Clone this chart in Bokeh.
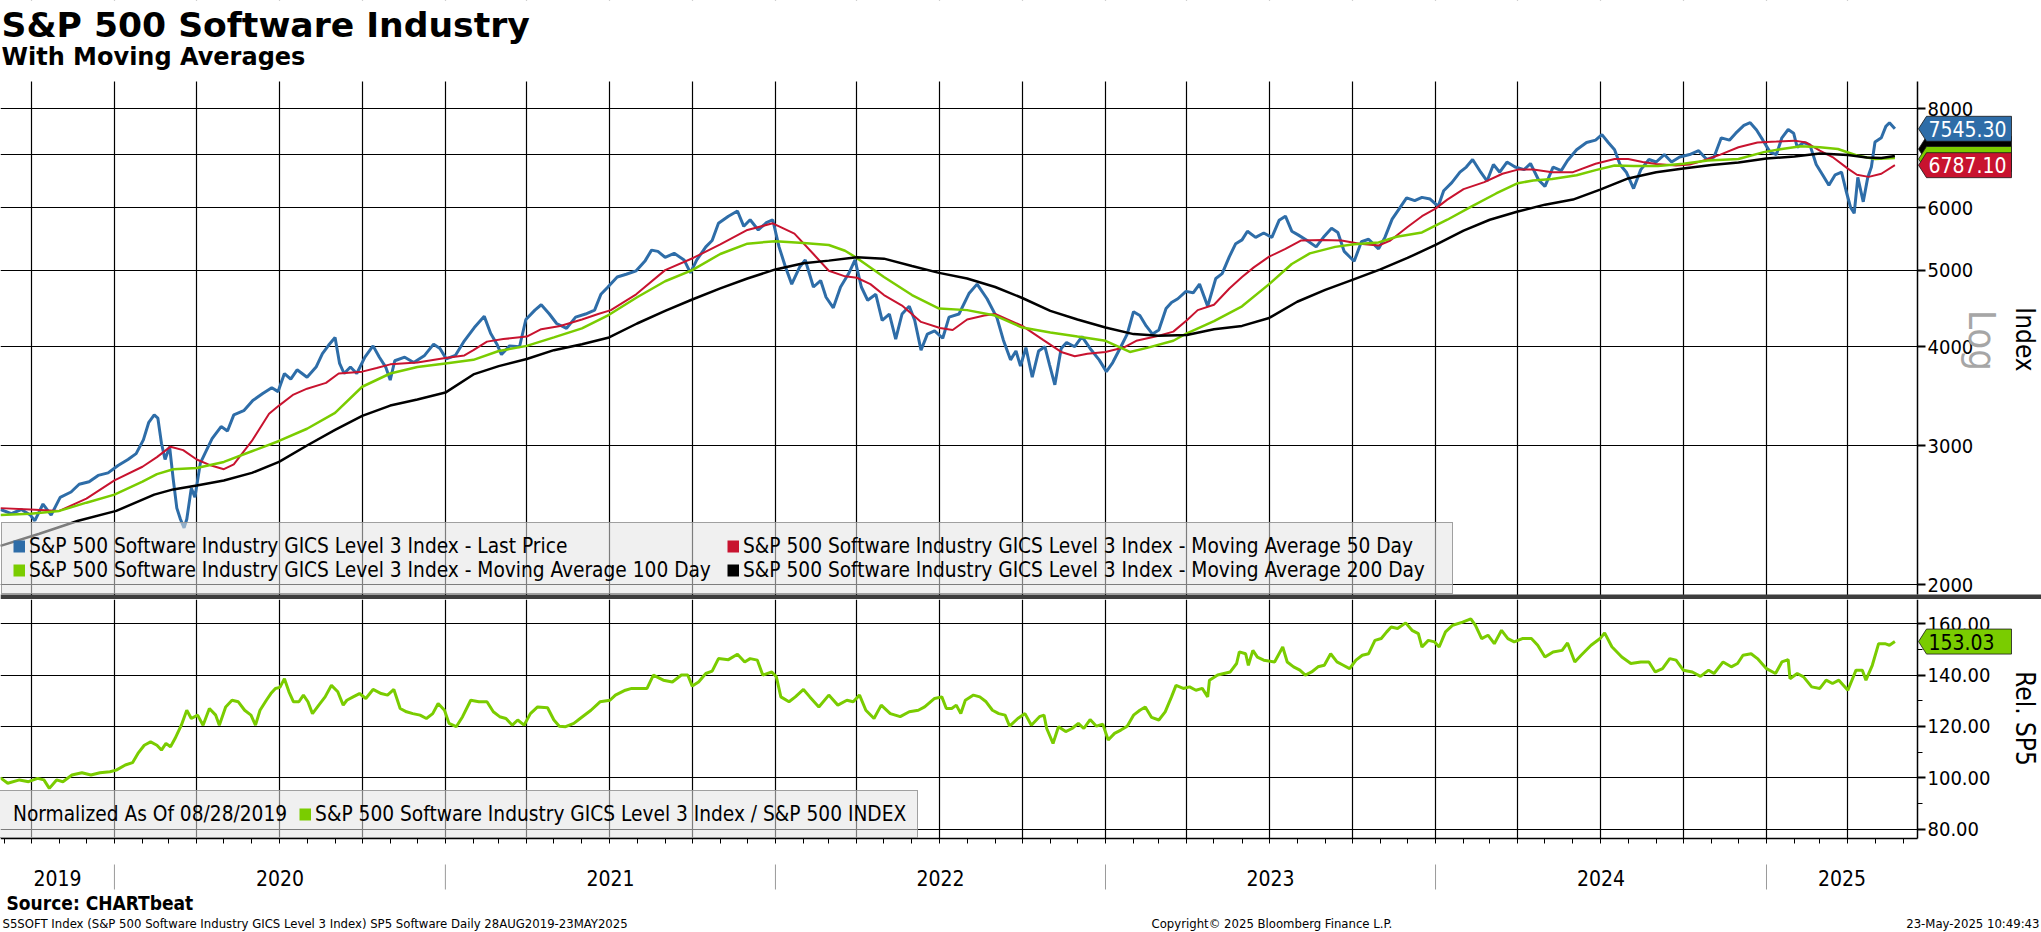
import numpy as np
import pandas as pd
from bokeh.plotting import figure
from bokeh.models import (Range1d, FixedTicker, NumeralTickFormatter, DatetimeTickFormatter,
                          Legend, LegendItem, Label, BoxAnnotation, PolyAnnotation)
from bokeh.layouts import column
from bokeh.embed import file_html
from bokeh.resources import INLINE

# ---------------------------------------------------------------- data
price_dates = ["2019-08-28","2019-09-09","2019-09-20","2019-09-30","2019-10-05","2019-10-14","2019-10-23","2019-11-02","2019-11-14","2019-11-23",
"2019-12-04","2019-12-14","2019-12-25","2020-01-05","2020-01-16","2020-01-25","2020-02-02","2020-02-08","2020-02-14","2020-02-18",
"2020-02-22","2020-02-26","2020-03-02","2020-03-06","2020-03-10","2020-03-14","2020-03-18","2020-03-21","2020-03-26","2020-03-30",
"2020-04-05","2020-04-10","2020-04-18","2020-04-28","2020-05-05","2020-05-12","2020-05-23","2020-06-02","2020-06-13","2020-06-23",
"2020-06-30","2020-07-07","2020-07-14","2020-07-21","2020-08-01","2020-08-11","2020-08-18","2020-08-25","2020-09-01","2020-09-06",
"2020-09-11","2020-09-18","2020-09-25","2020-10-04","2020-10-13","2020-10-20","2020-10-27","2020-11-01","2020-11-06","2020-11-17",
"2020-11-27","2020-12-09","2020-12-19","2020-12-26","2021-01-02","2021-01-12","2021-01-22","2021-02-02","2021-02-13","2021-02-20",
"2021-02-27","2021-03-04","2021-03-13","2021-03-24","2021-03-31","2021-04-10","2021-04-17","2021-04-26","2021-05-04","2021-05-15",
"2021-05-25","2021-06-05","2021-06-15","2021-06-22","2021-06-29","2021-07-10","2021-07-20","2021-07-31","2021-08-10","2021-08-17",
"2021-08-24","2021-09-01","2021-09-11","2021-09-22","2021-09-29","2021-10-06","2021-10-16","2021-10-23","2021-10-30","2021-11-10",
"2021-11-20","2021-11-27","2021-12-04","2021-12-13","2021-12-22","2021-12-29","2022-01-05","2022-01-12","2022-01-19","2022-01-28",
"2022-02-03","2022-02-12","2022-02-20","2022-02-26","2022-03-06","2022-03-14","2022-03-23","2022-03-30","2022-04-06","2022-04-13",
"2022-04-22","2022-04-29","2022-05-07","2022-05-14","2022-05-21","2022-05-29","2022-06-04","2022-06-11","2022-06-18","2022-06-26",
"2022-07-05","2022-07-12","2022-07-23","2022-08-03","2022-08-12","2022-08-23","2022-09-03","2022-09-10","2022-09-18","2022-09-24",
"2022-09-29","2022-10-05","2022-10-12","2022-10-19","2022-10-26","2022-10-31","2022-11-06","2022-11-13","2022-11-19","2022-11-28",
"2022-12-06","2022-12-15","2022-12-25","2023-01-02","2023-01-09","2023-01-18","2023-01-25","2023-02-01","2023-02-08","2023-02-15",
"2023-02-22","2023-03-01","2023-03-09","2023-03-15","2023-03-22","2023-03-31","2023-04-08","2023-04-15","2023-04-24","2023-05-03",
"2023-05-10","2023-05-18","2023-05-25","2023-06-01","2023-06-07","2023-06-16","2023-06-25","2023-07-04","2023-07-12","2023-07-19",
"2023-07-26","2023-08-02","2023-08-12","2023-08-22","2023-08-31","2023-09-08","2023-09-15","2023-09-22","2023-10-03","2023-10-11",
"2023-10-19","2023-10-30","2023-11-06","2023-11-14","2023-11-21","2023-11-30","2023-12-09","2023-12-17","2023-12-26","2024-01-04",
"2024-01-10","2024-01-19","2024-01-28","2024-02-04","2024-02-11","2024-02-20","2024-02-27","2024-03-05","2024-03-12","2024-03-20",
"2024-03-29","2024-04-08","2024-04-15","2024-04-24","2024-05-01","2024-05-10","2024-05-19","2024-05-26","2024-06-05","2024-06-16",
"2024-06-26","2024-07-03","2024-07-10","2024-07-17","2024-07-23","2024-07-30","2024-08-07","2024-08-15","2024-08-24","2024-09-01",
"2024-09-10","2024-09-18","2024-09-27","2024-10-08","2024-10-18","2024-10-27","2024-11-04","2024-11-12","2024-11-21","2024-11-28",
"2024-12-07","2024-12-14","2024-12-21","2024-12-28","2025-01-05","2025-01-12","2025-01-18","2025-01-25","2025-01-31","2025-02-04",
"2025-02-11","2025-02-18","2025-02-25","2025-03-04","2025-03-11","2025-03-18","2025-03-25","2025-03-30","2025-04-04","2025-04-08",
"2025-04-12","2025-04-18","2025-04-23","2025-04-27","2025-05-01","2025-05-08","2025-05-13","2025-05-17","2025-05-23"]
price_vals = [2490,2460,2490,2450,2410,2530,2450,2580,2620,2680,
2700,2750,2770,2830,2880,2930,3050,3210,3280,3250,
3020,2880,2990,2720,2500,2420,2360,2420,2650,2580,
2850,2930,3060,3170,3130,3280,3320,3420,3490,3550,
3510,3700,3640,3740,3660,3770,3920,4020,4110,3810,
3700,3770,3700,3880,4010,3880,3770,3630,3840,3880,
3820,3900,4030,3980,3860,3900,4070,4230,4370,4160,
4030,3910,4010,4000,4330,4450,4520,4400,4280,4220,
4360,4400,4450,4660,4750,4900,4940,4990,5140,5300,
5280,5190,5250,5150,4960,5150,5350,5450,5730,5850,
5940,5680,5790,5620,5740,5790,5350,5050,4800,5050,
5150,4760,4850,4620,4480,4760,4950,5150,4760,4580,
4660,4320,4400,4090,4400,4500,4320,3960,4150,4190,
4100,4360,4400,4670,4800,4600,4350,4080,3850,3950,
3780,3990,3660,3950,4000,3800,3580,3980,4050,4000,
4120,3980,3850,3720,3820,4000,4150,4430,4380,4250,
4150,4200,4470,4550,4600,4700,4680,4800,4500,4880,
4950,5200,5400,5460,5600,5500,5570,5500,5780,5850,
5600,5540,5450,5350,5520,5650,5580,5280,5130,5430,
5470,5320,5500,5800,5960,6170,6120,6180,6150,6020,
6300,6450,6650,6750,6900,6650,6480,6800,6650,6850,
6750,6700,6820,6500,6380,6750,6680,6880,7100,7250,
7300,7420,7250,7100,6800,6650,6340,6700,6900,6850,
7000,6850,6950,7000,7080,6900,6950,7350,7300,7450,
7620,7680,7520,7300,7050,7000,7350,7530,7450,7150,
7250,7200,6800,6600,6400,6600,6650,6300,6000,5900,
6550,6100,6550,6750,7260,7350,7600,7680,7545.30]

ma50_dates = ["2019-08-28","2019-09-30","2019-11-01","2019-12-01","2020-01-01","2020-02-01","2020-02-17","2020-03-03","2020-03-17","2020-04-01",
"2020-04-17","2020-05-01","2020-05-12","2020-06-01","2020-06-20","2020-07-01","2020-07-17","2020-08-01","2020-08-22","2020-09-05",
"2020-10-01","2020-10-17","2020-11-01","2020-12-01","2021-01-01","2021-01-22","2021-02-01","2021-02-16","2021-03-06","2021-04-01",
"2021-04-17","2021-05-08","2021-06-01","2021-06-19","2021-07-03","2021-07-31","2021-09-01","2021-10-02","2021-11-01","2021-12-01",
"2021-12-29","2022-01-22","2022-02-12","2022-03-01","2022-03-19","2022-04-01","2022-04-16","2022-05-01","2022-05-21","2022-06-11",
"2022-07-02","2022-07-16","2022-08-01","2022-08-20","2022-09-01","2022-10-01","2022-10-24","2022-11-13","2022-11-28","2022-12-12",
"2023-01-01","2023-01-21","2023-02-04","2023-03-01","2023-03-17","2023-04-01","2023-04-13","2023-05-01","2023-05-18","2023-06-01",
"2023-06-14","2023-07-01","2023-07-19","2023-08-05","2023-08-29","2023-09-19","2023-10-09","2023-10-30","2023-11-12","2023-12-01",
"2023-12-17","2024-01-01","2024-01-14","2024-02-01","2024-02-24","2024-03-15","2024-04-01","2024-04-18","2024-05-09","2024-06-01",
"2024-06-26","2024-07-17","2024-08-01","2024-08-17","2024-09-01","2024-09-23","2024-10-08","2024-10-22","2024-11-11","2024-12-01",
"2024-12-22","2025-01-12","2025-02-01","2025-02-14","2025-03-01","2025-03-15","2025-04-01","2025-04-11","2025-04-24","2025-05-08",
"2025-05-23"]
ma50_vals = [2500,2490,2480,2570,2710,2820,2900,2990,2960,2880,
2830,2800,2840,3040,3290,3370,3480,3540,3600,3700,
3720,3760,3800,3820,3870,3900,3960,4060,4090,4120,
4210,4250,4330,4400,4450,4660,5000,5180,5390,5620,
5730,5560,5240,4990,4910,4890,4800,4650,4510,4300,
4225,4200,4330,4380,4400,4250,4080,3940,3890,3920,
3940,3990,4070,4130,4180,4320,4450,4520,4740,4900,
5040,5200,5320,5450,5460,5450,5400,5370,5450,5670,
5850,5980,6140,6330,6460,6620,6700,6700,6650,6650,
6815,6910,6910,6850,6810,6780,6800,6870,7000,7150,
7250,7270,7290,7250,7080,6950,6720,6600,6560,6620,
6787.10]

ma100_dates = ["2019-08-28","2019-09-30","2019-11-01","2019-12-01","2020-01-01","2020-02-01","2020-02-17","2020-03-06","2020-04-01","2020-05-01",
"2020-06-01","2020-07-01","2020-08-01","2020-09-01","2020-10-01","2020-11-01","2020-12-01","2021-01-01","2021-02-01","2021-03-01",
"2021-04-01","2021-05-01","2021-06-01","2021-07-01","2021-08-01","2021-09-01","2021-10-01","2021-11-01","2021-12-01","2022-01-01",
"2022-02-01","2022-03-01","2022-03-19","2022-04-01","2022-05-01","2022-06-01","2022-07-01","2022-08-01","2022-09-01","2022-10-01",
"2022-11-01","2022-12-01","2023-01-01","2023-01-28","2023-02-17","2023-03-17","2023-04-01","2023-05-01","2023-06-01","2023-07-01",
"2023-07-26","2023-08-15","2023-09-12","2023-10-03","2023-10-30","2023-11-19","2023-12-17","2024-01-14","2024-02-09","2024-03-08",
"2024-04-01","2024-04-18","2024-05-09","2024-06-05","2024-06-26","2024-07-17","2024-08-07","2024-09-03","2024-10-01","2024-10-28",
"2024-12-01","2024-12-29","2025-01-18","2025-02-08","2025-03-01","2025-03-21","2025-04-11","2025-05-01","2025-05-23"]
ma100_vals = [2450,2460,2480,2540,2600,2700,2760,2800,2810,2860,
2950,3040,3150,3300,3560,3700,3770,3810,3850,3950,
4010,4110,4220,4390,4620,4840,5000,5240,5400,5440,
5410,5380,5290,5180,4900,4650,4470,4450,4380,4230,
4170,4120,4070,3940,3990,4070,4160,4310,4500,4800,
5090,5250,5350,5390,5420,5510,5580,5790,6010,6250,
6440,6490,6520,6590,6690,6780,6770,6770,6815,6880,
6910,7050,7115,7170,7150,7115,6980,6910,6930]

ma200_dates = ["2019-08-28","2019-10-10","2019-11-22","2020-01-03","2020-02-14","2020-03-06","2020-04-01","2020-05-01","2020-06-01","2020-07-01",
"2020-08-01","2020-09-01","2020-10-01","2020-11-01","2020-12-01","2021-01-01","2021-02-01","2021-03-01","2021-04-01","2021-05-01",
"2021-06-01","2021-07-01","2021-08-01","2021-09-01","2021-10-01","2021-11-01","2021-12-01","2022-01-01","2022-02-01","2022-03-01",
"2022-04-01","2022-05-01","2022-06-01","2022-07-01","2022-08-01","2022-09-01","2022-10-01","2022-11-01","2022-12-01","2023-01-01",
"2023-02-01","2023-03-01","2023-04-01","2023-05-01","2023-06-01","2023-07-01","2023-08-01","2023-09-01","2023-10-01","2023-11-01",
"2023-12-01","2024-01-01","2024-02-01","2024-03-01","2024-04-01","2024-05-01","2024-06-01","2024-07-01","2024-08-01","2024-09-01",
"2024-10-01","2024-11-01","2024-12-01","2025-01-01","2025-02-01","2025-03-01","2025-04-01","2025-04-22","2025-05-08","2025-05-23"]
ma200_vals = [2240,2320,2410,2480,2600,2640,2670,2710,2770,2860,
3000,3140,3270,3370,3430,3500,3690,3780,3860,3960,
4030,4110,4280,4440,4590,4740,4880,5010,5100,5140,
5190,5170,5060,4960,4880,4760,4610,4440,4330,4230,
4150,4130,4140,4210,4250,4350,4560,4720,4860,5010,
5180,5380,5610,5790,5930,6050,6140,6320,6530,6650,
6720,6790,6840,6920,6960,7020,6990,6940,6930,6970]

rel_dates = ["2019-08-28","2019-09-05","2019-09-18","2019-09-28","2019-10-08","2019-10-15","2019-10-21","2019-10-29","2019-11-05","2019-11-15",
"2019-11-26","2019-12-06","2019-12-16","2019-12-27","2020-01-03","2020-01-13","2020-01-21","2020-01-27","2020-02-03","2020-02-10",
"2020-02-17","2020-02-22","2020-02-27","2020-03-03","2020-03-08","2020-03-15","2020-03-21","2020-03-26","2020-04-02","2020-04-08",
"2020-04-15","2020-04-22","2020-04-26","2020-05-03","2020-05-10","2020-05-17","2020-05-24","2020-05-31","2020-06-05","2020-06-10",
"2020-06-17","2020-06-22","2020-06-27","2020-07-02","2020-07-07","2020-07-12","2020-07-17","2020-07-23","2020-07-28","2020-08-02",
"2020-08-07","2020-08-14","2020-08-21","2020-08-28","2020-09-04","2020-09-10","2020-09-14","2020-09-21","2020-09-28","2020-10-05",
"2020-10-13","2020-10-22","2020-10-29","2020-11-05","2020-11-12","2020-11-19","2020-11-26","2020-12-04","2020-12-11","2020-12-18",
"2020-12-24","2020-12-31","2021-01-05","2021-01-13","2021-01-20","2021-01-29","2021-02-07","2021-02-16","2021-02-23","2021-03-02",
"2021-03-09","2021-03-16","2021-03-22","2021-03-29","2021-04-05","2021-04-13","2021-04-24","2021-05-01","2021-05-07","2021-05-14",
"2021-05-23","2021-05-30","2021-06-11","2021-06-21","2021-07-02","2021-07-08","2021-07-19","2021-07-26","2021-08-02","2021-08-12",
"2021-08-19","2021-08-30","2021-09-09","2021-09-19","2021-09-26","2021-10-01","2021-10-08","2021-10-16","2021-10-23","2021-10-30",
"2021-11-10","2021-11-20","2021-11-28","2021-12-04","2021-12-12","2021-12-18","2021-12-28","2022-01-02","2022-01-07","2022-01-16",
"2022-01-23","2022-02-01","2022-02-08","2022-02-18","2022-03-01","2022-03-11","2022-03-21","2022-03-28","2022-04-04","2022-04-11",
"2022-04-20","2022-04-28","2022-05-08","2022-05-19","2022-05-29","2022-06-08","2022-06-15","2022-06-26","2022-07-04","2022-07-09",
"2022-07-15","2022-07-20","2022-07-25","2022-07-30","2022-08-08","2022-08-15","2022-08-22","2022-08-29","2022-09-05","2022-09-12",
"2022-09-17","2022-09-26","2022-10-04","2022-10-11","2022-10-20","2022-10-25","2022-10-28","2022-11-04","2022-11-10","2022-11-18",
"2022-11-25","2022-12-02","2022-12-08","2022-12-15","2022-12-22","2022-12-29","2023-01-04","2023-01-11","2023-01-18","2023-01-25",
"2023-02-01","2023-02-08","2023-02-14","2023-02-21","2023-03-01","2023-03-08","2023-03-15","2023-03-20","2023-03-28","2023-04-04",
"2023-04-11","2023-04-18","2023-04-24","2023-04-26","2023-05-05","2023-05-12","2023-05-19","2023-05-26","2023-05-29","2023-06-05",
"2023-06-08","2023-06-13","2023-06-18","2023-06-25","2023-07-07","2023-07-16","2023-07-21","2023-07-28","2023-08-04","2023-08-10",
"2023-08-17","2023-08-24","2023-08-31","2023-09-07","2023-09-14","2023-09-21","2023-09-28","2023-10-05","2023-10-12","2023-10-19",
"2023-10-26","2023-11-02","2023-11-08","2023-11-13","2023-11-20","2023-11-29","2023-12-06","2023-12-13","2023-12-17","2023-12-24",
"2023-12-31","2024-01-05","2024-01-12","2024-01-20","2024-01-31","2024-02-09","2024-02-14","2024-02-21","2024-02-28","2024-03-06",
"2024-03-14","2024-03-21","2024-03-28","2024-04-06","2024-04-16","2024-04-23","2024-05-01","2024-05-10","2024-05-20","2024-05-26",
"2024-06-03","2024-06-10","2024-06-21","2024-07-01","2024-07-06","2024-07-14","2024-07-25","2024-08-04","2024-08-15","2024-08-24",
"2024-08-31","2024-09-08","2024-09-16","2024-09-23","2024-10-01","2024-10-11","2024-10-20","2024-10-29","2024-11-04","2024-11-14",
"2024-11-23","2024-11-30","2024-12-06","2024-12-15","2024-12-22","2025-01-01","2025-01-11","2025-01-18","2025-01-25","2025-01-27",
"2025-02-04","2025-02-11","2025-02-20","2025-03-01","2025-03-08","2025-03-15","2025-03-22","2025-04-01","2025-04-10","2025-04-17",
"2025-04-21","2025-04-28","2025-05-05","2025-05-12","2025-05-17","2025-05-23"]
rel_vals = [100.0,97.9,99.2,98.5,99.8,99.2,95.9,99.2,98.5,101.1,
102.0,101.1,102.0,102.4,103.0,105.0,105.9,109.5,112.7,114.0,
112.7,110.8,113.4,112.1,115.3,120.5,126.3,123.1,124.4,120.5,
127.0,124.4,120.5,127.6,130.2,129.6,126.3,124.4,120.5,126.3,
130.2,132.8,134.8,135.2,138.6,133.5,129.6,129.6,132.2,129.6,
125.0,128.3,131.5,136.0,133.5,128.3,130.2,131.5,132.8,130.9,
134.4,132.8,132.2,134.4,127.0,125.7,125.0,124.4,123.1,125.0,
128.9,126.3,121.2,119.9,123.8,130.2,129.6,129.6,125.7,123.8,
123.1,120.5,122.5,120.5,125.0,127.6,127.3,122.5,120.1,119.9,
121.2,123.1,126.3,129.6,130.2,132.2,134.1,134.8,134.8,134.8,
140.0,138.0,137.3,140.0,140.0,135.7,137.3,140.6,141.5,146.4,
146.0,148.1,145.1,146.4,145.8,140.0,141.2,139.3,131.5,129.6,
131.5,134.4,131.5,127.6,132.2,128.3,130.2,129.6,132.2,126.3,
123.1,128.3,125.0,123.8,125.7,126.3,127.6,130.9,131.5,127.0,
127.0,128.3,125.0,130.2,132.2,131.5,129.6,126.3,125.0,124.4,
120.1,123.1,125.0,120.5,123.8,124.4,119.2,113.4,119.9,118.0,
119.2,121.2,119.2,122.7,120.1,120.9,114.7,117.3,118.6,120.1,
124.4,126.3,127.6,123.5,122.5,125.7,131.5,136.0,134.8,135.4,
134.1,134.8,131.5,138.0,140.0,140.6,141.2,144.5,149.0,148.3,
143.8,149.6,147.0,145.8,145.1,150.9,145.1,143.2,141.9,140.0,
141.2,143.2,143.8,148.3,145.1,143.8,142.5,145.8,147.7,148.3,
153.5,154.2,156.8,158.7,158.1,160.3,157.4,156.1,150.9,153.5,
152.9,150.9,156.8,159.4,160.6,161.9,159.4,154.2,155.5,152.2,
157.4,154.2,152.9,154.2,154.2,151.6,147.0,149.0,149.6,152.5,
145.1,147.7,151.6,154.2,156.4,151.0,147.0,144.5,145.1,145.1,
141.2,142.5,146.4,145.8,141.9,141.2,139.5,141.9,140.6,145.1,
143.2,144.5,147.7,148.3,146.4,142.5,140.6,145.1,146.0,138.6,
140.6,139.3,135.4,134.8,138.0,136.7,138.0,134.1,141.9,141.9,
138.0,143.8,152.2,152.2,151.6,153.03]

main_grid = [2000, 3000, 4000, 5000, 6000, 7000, 8000]
main_ticks = [2000, 3000, 4000, 5000, 6000, 8000]      # 7000 label sits under the badges
rel_ticks = [80, 100, 120, 140, 160]
rel_minor = [90, 110, 130, 150]
years = ["2019", "2020", "2021", "2022", "2023", "2024", "2025"]
X_START, X_AXIS = "2019-08-28", "2025-06-17"
MAIN_LO, MAIN_HI = 1944, 8660
REL_LO, REL_HI = 76.4, 169.4
last_price, last_ma50, last_rel = 7545.30, 6787.10, 153.03

main_labels = ["S&P 500 Software Industry GICS Level 3 Index - Last Price",
               "S&P 500 Software Industry GICS Level 3 Index - Moving Average 50 Day",
               "S&P 500 Software Industry GICS Level 3 Index - Moving Average 100 Day",
               "S&P 500 Software Industry GICS Level 3 Index - Moving Average 200 Day"]
rel_title = "Normalized As Of 08/28/2019"
rel_label = "S&P 500 Software Industry GICS Level 3 Index / S&P 500 INDEX"

# ---------------------------------------------------------------- geometry / style
FONT = "DejaVu Sans Condensed, DejaVu Sans"
TFONT = "DejaVu Sans"
BLUE, RED, GREEN, BLACK = "#2E6DA8", "#C8132F", "#7ACC00", "#000000"
SEP_COLOR = "#3d3d3d"
W = 2041
AX_PX = 1917                       # pixel column of the value axis
M_H, M_TOP, M_BOT = 599, 81, 594   # main canvas height, plot top / bottom (band below = separator)
L_OFF = M_H                        # page offset of lower canvas
L_H, L_TOP, L_BOT = 333, 0, 239    # lower canvas height, plot top / bottom (local px)


def ms(d):
    return pd.Timestamp(d).value / 1e6


x_start_ms, x_axis_ms = ms(X_START), ms(X_AXIS)
ms_per_px = (x_axis_ms - x_start_ms) / AX_PX


def xv(px):
    return x_start_ms + px * ms_per_px


x_range = Range1d(start=x_start_ms, end=xv(W))
pxln = (M_BOT - M_TOP) / np.log(MAIN_HI / MAIN_LO)


def yv1(py):
    return MAIN_LO * np.exp((M_BOT - py) / pxln)


def py1(v):
    return M_BOT - pxln * np.log(v / MAIN_LO)


ppu = (L_BOT - L_TOP) / (REL_HI - REL_LO)


def yv2(py):
    return REL_LO + (L_OFF + L_BOT - py) / ppu


def py2(v):
    return L_OFF + L_BOT - (v - REL_LO) * ppu


quarter_ms = [ms(d) for d in pd.date_range("2019-10-01", X_AXIS, freq="QS")]
month_ms = [ms(d) for d in pd.date_range("2019-09-01", X_AXIS, freq="MS")]
year_bounds = [ms(f"{y}-01-01") for y in years[1:]]
year_centers = []
for y in years:
    a = max(ms(f"{y}-01-01"), x_start_ms)
    b = min(ms(f"{int(y) + 1}-01-01"), x_axis_ms)
    year_centers.append((a + b) / 2)


def style_grid(fig, yticks):
    for g in (fig.xgrid, fig.ygrid):
        g.grid_line_color = "black"
        g.grid_line_width = 1.2
    fig.xgrid.ticker = FixedTicker(ticks=quarter_ms)
    fig.ygrid.ticker = FixedTicker(ticks=yticks)


def style_value_axis(ax, lo, hi):
    ax.fixed_location = x_axis_ms
    ax.bounds = (lo, hi)
    ax.axis_line_color = "black"
    ax.axis_line_width = 1.5
    ax.major_tick_in = 0
    ax.major_tick_out = 8
    ax.major_tick_line_width = 2
    ax.major_tick_line_color = "black"
    ax.minor_tick_in = 0
    ax.minor_tick_out = 5
    ax.minor_tick_line_color = "black"
    ax.major_label_standoff = 2
    ax.major_label_text_font = FONT
    ax.major_label_text_font_size = "20px"
    ax.major_label_text_color = "black"


def band(fig, color, **kw):
    fig.add_layout(BoxAnnotation(fill_color=color, fill_alpha=1.0, line_alpha=0,
                                 level="underlay", **kw))


def txt(fig, x, y, text, size, color="black", bold=False, font=FONT, align="left",
        angle=0.0):
    fig.add_layout(Label(x=x, y=y, text=text,
                         text_font=font, text_font_size=size, text_color=color,
                         text_font_style="bold" if bold else "normal",
                         text_align=align, text_baseline="middle", angle=angle))


def badge(fig, yfun, cy, bg, text=None, fg="white"):
    top, bot = cy - 12.5, cy + 12.5
    xs = [xv(1918), xv(1926), xv(2011), xv(2011), xv(1926)]
    ys = [yfun(cy), yfun(top), yfun(top), yfun(bot), yfun(bot)]
    fig.add_layout(PolyAnnotation(xs=xs, ys=ys, fill_color=bg, fill_alpha=1.0,
                                  line_color="#1a1a1a", line_width=1, line_alpha=0.8))
    if text:
        txt(fig, xv(1928), yfun(cy), text, "21px", color=fg)


LEG_STYLE = dict(label_text_font=FONT, label_text_font_size="20.7px", label_text_color="black",
                 glyph_width=12, glyph_height=22, label_height=22, label_standoff=4,
                 padding=11, margin=0,
                 background_fill_color="#e4e4e4", background_fill_alpha=0.55,
                 border_line_color="#8c8c8c", border_line_alpha=0.8, border_line_width=1)

# ---------------------------------------------------------------- main panel
p = figure(width=W, height=M_H, x_axis_type="datetime", y_axis_type="log",
           x_range=x_range, y_range=Range1d(yv1(M_H), yv1(0)),
           x_axis_location=None, y_axis_location="right",
           output_backend="svg", toolbar_location=None,
           min_border_left=0, min_border_right=0, min_border_top=0, min_border_bottom=0)
p.outline_line_color = None
style_grid(p, main_grid)
ya = p.yaxis[0]
ya.ticker = FixedTicker(ticks=main_ticks)
ya.formatter = NumeralTickFormatter(format="0")
style_value_axis(ya, MAIN_LO, MAIN_HI)
band(p, "white", left=x_axis_ms)
band(p, "white", bottom=MAIN_HI)
band(p, SEP_COLOR, top=MAIN_LO)

p.line(pd.to_datetime(price_dates), price_vals, line_color=BLUE, line_width=3)
p.line(pd.to_datetime(ma50_dates), ma50_vals, line_color=RED, line_width=2)
p.line(pd.to_datetime(ma100_dates), ma100_vals, line_color=GREEN, line_width=2.5)
p.line(pd.to_datetime(ma200_dates), ma200_vals, line_color=BLACK, line_width=2.5)

proxies = [p.line([x_start_ms], [3000], line_color=c, line_width=12) for c in (BLUE, RED, GREEN, BLACK)]
leg = Legend(items=[LegendItem(label=l, renderers=[r]) for l, r in zip(main_labels, proxies)],
             location=(1, M_H - M_BOT), orientation="horizontal", ncols=2, label_width=698, spacing=0,
             **LEG_STYLE)
p.add_layout(leg)

badge(p, yv1, 148.5, BLACK)
badge(p, yv1, 158.5, GREEN)
badge(p, yv1, py1(last_price), BLUE, f"{last_price:.2f}")
badge(p, yv1, py1(last_ma50), RED, f"{last_ma50:.2f}")

txt(p, xv(1), yv1(24), "S&P 500 Software Industry", "34.6px", bold=True, font=TFONT)
txt(p, xv(1), yv1(56), "With Moving Averages", "24px", bold=True, font=TFONT)
txt(p, xv(1981), yv1(340), "Log", "38px", color="#a6a6a6", angle=-np.pi / 2, align="center")
txt(p, xv(2024), yv1(339), "Index", "26px", angle=-np.pi / 2, align="center")

# ---------------------------------------------------------------- relative panel
p2 = figure(width=W, height=L_H, x_axis_type="datetime", x_range=x_range,
            y_range=Range1d(yv2(L_OFF + L_H), REL_HI), y_axis_location="right",
            output_backend="svg", toolbar_location=None,
            min_border_left=0, min_border_right=0, min_border_top=0, min_border_bottom=0)
p2.outline_line_color = None
style_grid(p2, rel_ticks)
ya2 = p2.yaxis[0]
ya2.ticker = FixedTicker(ticks=rel_ticks, minor_ticks=rel_minor)
ya2.formatter = NumeralTickFormatter(format="0.00")
style_value_axis(ya2, REL_LO, REL_HI)
band(p2, "white", left=x_axis_ms)
band(p2, "white", top=REL_LO)

xa = p2.xaxis[0]
xa.fixed_location = REL_LO
xa.bounds = (x_start_ms, x_axis_ms)
xa.ticker = FixedTicker(ticks=year_centers, minor_ticks=month_ms)
xa.formatter = DatetimeTickFormatter(microseconds="%Y", milliseconds="%Y", seconds="%Y", minsec="%Y",
                                     minutes="%Y", hourmin="%Y", hours="%Y", days="%Y",
                                     months="%Y", years="%Y")
xa.axis_line_color = "black"
xa.axis_line_width = 1.5
xa.major_tick_in = 0
xa.major_tick_out = 0
xa.minor_tick_in = 0
xa.minor_tick_out = 5
xa.minor_tick_line_color = "black"
xa.major_label_standoff = 26
xa.major_label_text_font = FONT
xa.major_label_text_font_size = "21px"
xa.major_label_text_color = "black"

# thin separators between the year labels
p2.segment(x0=year_bounds, x1=year_bounds,
           y0=[yv2(864)] * len(year_bounds), y1=[yv2(889)] * len(year_bounds),
           line_color="#9a9a9a", line_width=1)

p2.line(pd.to_datetime(rel_dates), rel_vals, line_color=GREEN, line_width=3)
inv = p2.line([x_start_ms], [100], line_alpha=0, line_width=12)
gprx = p2.line([x_start_ms], [100], line_color=GREEN, line_width=12)
leg2 = Legend(items=[LegendItem(label=rel_title, renderers=[inv]),
                     LegendItem(label=rel_label, renderers=[gprx])],
              location=(-15, L_H - L_BOT), orientation="horizontal", spacing=12,
              **LEG_STYLE)
p2.add_layout(leg2)

badge(p2, yv2, py2(last_rel), GREEN, f"{last_rel:.2f}", fg="black")
txt(p2, xv(2024), yv2(718), "Rel. SP5", "26px", angle=-np.pi / 2, align="center")

txt(p2, xv(6), yv2(902), "Source: CHARTbeat", "19px", bold=True)
txt(p2, xv(2), yv2(923), "S5SOFT Index (S&P 500 Software Industry GICS Level 3 Index) SP5 Software  Daily 28AUG2019-23MAY2025", "13px")
txt(p2, xv(1151), yv2(923), "Copyright\u00a9 2025 Bloomberg Finance L.P.", "13px")
txt(p2, xv(2039), yv2(923), "23-May-2025 10:49:43", "13px", align="right")

layout = column(p, p2)
open("out.html", "w").write(file_html(layout, INLINE))
